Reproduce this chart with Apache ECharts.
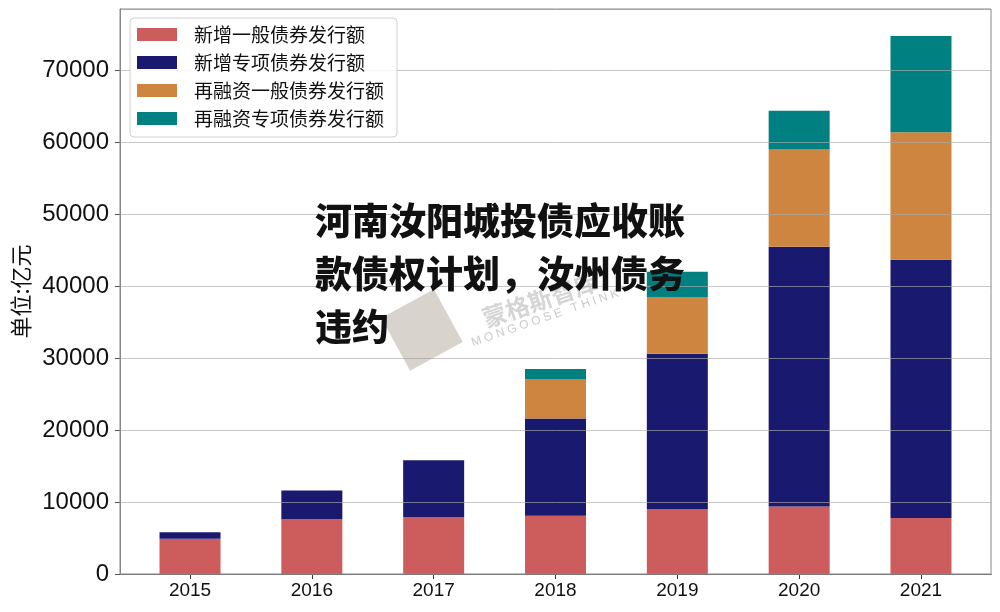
<!DOCTYPE html>
<html><head><meta charset="utf-8">
<script src="https://cdn.jsdelivr.net/npm/echarts@6/dist/echarts.min.js"></script>
<style>html,body{margin:0;padding:0;background:#fff}#c{width:1000px;height:612px}</style>
</head><body><div id="c"></div>
<script>
const years = ['2015','2016','2017','2018','2019','2020','2021'];
const newGeneral = [4900, 7600, 7900, 8100, 9000, 9400, 7800];
const newSpecial = [900, 4000, 7900, 13500, 21600, 36100, 35900];
const refiGeneral = [0, 0, 0, 5500, 7900, 13500, 17700];
const refiSpecial = [0, 0, 0, 1400, 3500, 5400, 13400];
const seriesNames = ['新增一般债券发行额','新增专项债券发行额','再融资一般债券发行额','再融资专项债券发行额'];
const seriesColors = ['#CD5C5C','#191970','#CD853F','#008080'];
const overlayLines = ['河南汝阳城投债应收账','款债权计划，汝州债务','违约'];
const yAxisName = '单位:亿元';
const yMax = 78540;

const chart = echarts.init(document.getElementById('c'), null, {renderer:'canvas'});
const allData = [newGeneral, newSpecial, refiGeneral, refiSpecial];
const font = 'Liberation Sans, Arial, sans-serif';
const cjk = '"Noto Sans CJK SC", sans-serif';

const series = allData.map((arr, k) => ({
  name: seriesNames[k],
  type: 'bar',
  stack: 'total',
  barWidth: 61,
  xAxisIndex: 0, yAxisIndex: 0,
  itemStyle: {color: seriesColors[k]},
  data: arr,
  z: 2
}));

const overlay = overlayLines.map((t, i) => ({
  type: 'text', left: 315, top: 202 + i * 53, z: 100,
  style: {text: t, fill: '#111', font: '900 37px "Noto Sans CJK SC"'}
}));

chart.setOption({
  animation: false,
  backgroundColor: '#fff',
  grid: [
    {left: 129.1, right: 18.1, top: 9, bottom: 38, containLabel: false},
    {left: 120, right: 9, top: 9, bottom: 38, containLabel: false}
  ],
  legend: {
    orient: 'vertical', left: 130, top: 18,
    padding: [7, 13, 9, 7], itemGap: 9,
    itemWidth: 40, itemHeight: 13, icon: 'rect',
    borderColor: '#d0d0d0', borderWidth: 1, borderRadius: 4,
    backgroundColor: 'rgba(255,255,255,0.85)',
    textStyle: {fontFamily: cjk, fontSize: 19, color: '#111', padding: [0,0,0,12]},
    data: seriesNames
  },
  xAxis: [
    {
      type: 'category', gridIndex: 0, data: years,
      axisLine: {show: false},
      axisTick: {show: true, alignWithLabel: true, length: 5, lineStyle: {color: '#333'}},
      axisLabel: {fontFamily: font, fontSize: 19, color: '#111', margin: 7},
      splitLine: {show: false}
    },
    {
      type: 'value', gridIndex: 1, min: 0, max: 1,
      axisLine: {show: true, onZero: false, lineStyle: {color: '#000', width: 1.2}},
      axisTick: {show: false}, axisLabel: {show: false}, splitLine: {show: false}
    }
  ],
  yAxis: [
    {
      type: 'value', gridIndex: 0, min: 0, max: yMax, interval: 10000,
      axisLine: {show: false}, axisTick: {show: false}, axisLabel: {show: false}, splitLine: {show: false}
    },
    {
      type: 'value', gridIndex: 1, min: 0, max: yMax, interval: 10000, z: 3,
      name: yAxisName, nameLocation: 'middle', nameGap: 86,
      nameTextStyle: {fontFamily: cjk, fontSize: 22, color: '#111'},
      axisLine: {show: true, onZero: false, lineStyle: {color: '#888'}},
      axisTick: {show: true, length: 5, lineStyle: {color: '#555'}},
      axisLabel: {fontFamily: font, fontSize: 24, color: '#111', margin: 11, showMaxLabel: false, formatter: v => String(v)},
      splitLine: {show: true, lineStyle: {color: 'rgba(170,170,170,0.65)', width: 1}}
    }
  ],
  graphic: [
    {type: 'rect', shape: {x: 120, y: 9, width: 871, height: 565}, style: {fill: 'none', stroke: '#888', lineWidth: 1}, z: 50, silent: true},
    {type: 'rect', shape: {x: -30, y: -30, width: 60, height: 60}, x: 422, y: 330, rotation: 0.5, style: {fill: 'rgba(160,145,130,0.4)'}, z: 60},
    {type: 'text', x: 540, y: 300, rotation: 0.33, style: {text: '蒙格斯智库', fill: 'rgba(150,150,150,0.4)', font: 'bold 24px "Noto Sans CJK SC"', align: 'center', verticalAlign: 'middle'}, z: 60},
    {type: 'text', x: 545, y: 318, rotation: 0.33, style: {text: 'M O N G O O S E   T H I N K', fill: 'rgba(150,150,150,0.5)', font: '12px Liberation Sans', align: 'center', verticalAlign: 'middle'}, z: 60}
  ].concat(overlay),
  series: series
});
</script></body></html>
